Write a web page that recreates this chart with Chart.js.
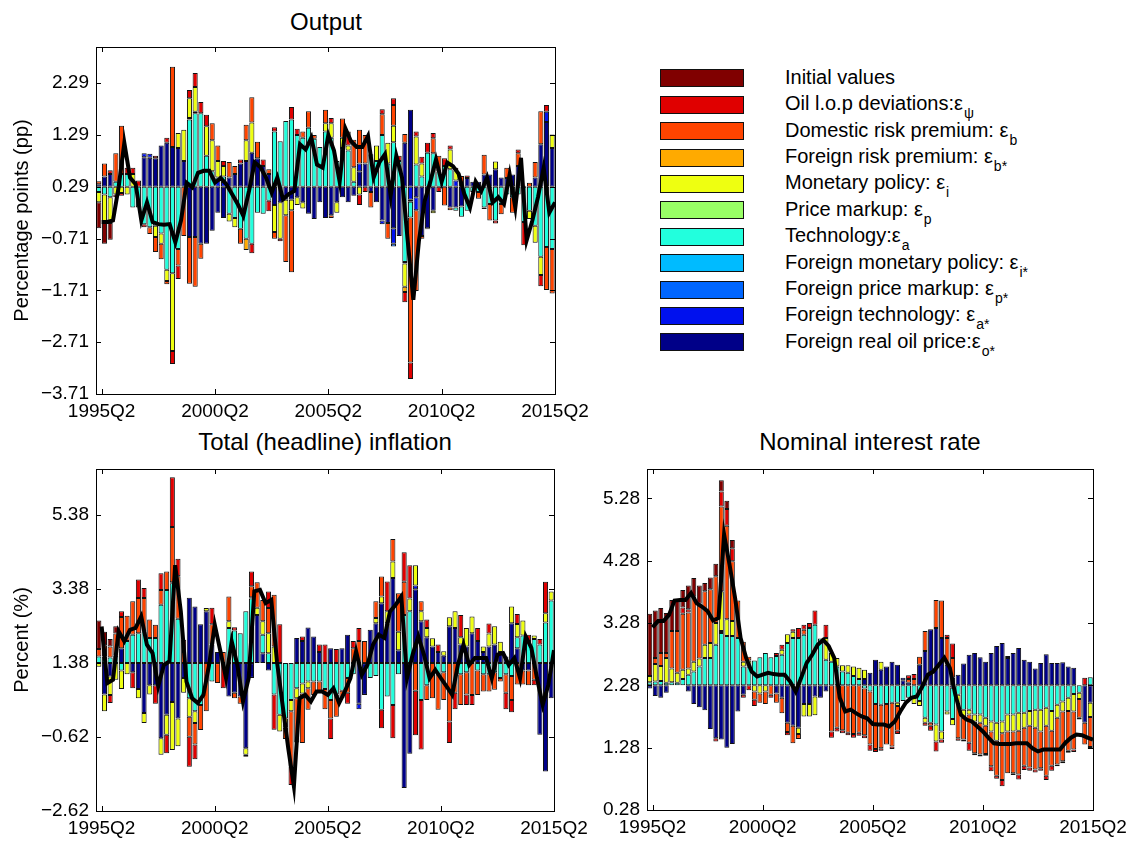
<!DOCTYPE html>
<html>
<head>
<meta charset="utf-8">
<title>Historical shock decomposition</title>
<script src="https://cdn.jsdelivr.net/npm/chart.js@4.4.1/dist/chart.umd.min.js"></script>
<style>
  body { margin: 0; background: #fff; font-family: 'Liberation Sans', Arial, sans-serif; }
  #page { position: relative; width: 1139px; height: 841px; overflow: hidden; background: #fff; }
  .title { position: absolute; width: 460px; text-align: center; font-size: 24px; line-height: 28px; color: #000; }
  .wrap { position: absolute; }
  .lbox { position: absolute; left: 660px; width: 82px; height: 16px; border: 1px solid #111; }
  .ltext { position: absolute; left: 785px; font-size: 20px; line-height: 24px; color: #000; white-space: nowrap; }
  .ltext .sub { position: relative; top: 8px; font-size: 14px; margin-left: 1px; }
</style>
</head>
<body>
<div id="page">
  <div class="title" style="left:96px; top:8px;">Output</div>
  <div class="title" style="left:95px; top:428px;">Total (headline) inflation</div>
  <div class="title" style="left:640px; top:428px;">Nominal interest rate</div>
  <div id="legend"></div>
  <div class="wrap" style="left:0; top:0;"><canvas id="outChart" width="600" height="440"></canvas></div>
  <div class="wrap" style="left:0; top:430px;"><canvas id="infChart" width="600" height="411"></canvas></div>
  <div class="wrap" style="left:560px; top:430px;"><canvas id="rateChart" width="579" height="411"></canvas></div>
</div>
<script>
// quarters 1995Q2 .. 2015Q2
const quarters = [];
for (let y = 1995, q = 2; quarters.length < 81; ) {
  quarters.push(y + 'Q' + q);
  q++; if (q > 4) { q = 1; y++; }
}
const tickLabels = ['1995Q2', '2000Q2', '2005Q2', '2010Q2', '2015Q2'];

// legend (top to bottom)
const legendNames = ['Initial values', 'Oil l.o.p deviations:\u03b5', 'Domestic risk premium: \u03b5',
  'Foreign risk premium: \u03b5', 'Monetary policy: \u03b5', 'Price markup: \u03b5', 'Technology:\u03b5',
  'Foreign monetary policy: \u03b5', 'Foreign price markup: \u03b5', 'Foreign technology: \u03b5',
  'Foreign real oil price:\u03b5'];
const legendSubs = ['', '\u03c8', 'b', 'b*', 'i', 'p', 'a', 'i*', 'p*', 'a*', 'o*'];
const seriesColors = ['#800000', '#e00000', '#ff4400', '#ffaa00', '#eeff11', '#99ff66',
  '#22ffdd', '#00bbff', '#0066ff', '#0011ee', '#000088'];

// ---------- Output (deviation from 0.29) ----------
const outBase = 0.29;
const outInit = [
  -0.5, -0.4, -0.32, 0, 0, 0, 0, 0, 0, 0,
  0, 0, 0, 0, 0, 0, 0, 0, 0, 0,
  0, 0, 0, 0, 0, 0, 0, 0, 0, 0,
  0, 0, 0, 0, 0, 0, 0, 0, 0, 0,
  0, 0, 0, 0, 0, 0, 0, 0, 0, 0,
  0, 0, 0, 0, 0, 0, 0, 0, 0, 0,
  0, 0, 0, 0, 0, 0, 0, 0, 0, 0,
  0, 0, 0, 0, 0, 0, 0, 0, 0, 0,
  0];
const outLop = [
  0, 0, 0.07, -0.05, -0.05, 0.12, 0.12, 0.12, -0.06, 0,
  0.05, 0, 0.1, -0.25, -0.26, 0, 0.16, 0.27, 0.22, 0.22,
  0, 0, 0.1, 0, 0, 0.08, 0, -0.18, 0, 0.13,
  -0.2, 0.08, -0.05, 0, 0.24, 0.12, 0, 0, 0, 0,
  0, 0.1, 0, 0, 0.27, 0, -0.2, -0.1, 0, 0,
  0.1, 0, 0.13, 0.1, -0.2, -0.32, 0.1, 0.13, 0.19, 0.1,
  -0.1, 0.15, 0.08, 0.05, 0, 0.05, 0, 0, -0.03, 0,
  -0.06, 0, 0, 0, 0.07, -0.45, 0, 0, -0.22, 0.13,
  0];
const outDomRisk = [
  0.06, 0.25, 0, 0.55, 0.93, 0, 0, 0, 0, -0.13,
  -0.29, -0.3, -0.06, 1.55, -0.32, -0.95, -0.9, -0.96, -0.29, 0,
  0.33, 0.3, 0, 0.3, 0.15, -0.29, 0.3, 0.49, 0.32, 0,
  0.09, -0.13, 0, -0.9, -1.2, 0, 0.12, 0.32, 0.07, 0,
  0.26, -0.05, 0, 0.37, 0, 0.53, 0.65, 0.55, -0.3, 0,
  0.4, -0.3, 0.4, 0, 0.17, -2.8, -1.56, -0.05, 0, 0.29,
  0.3, -0.36, -0.05, 0, 0.21, 0, 0, -0.13, 0.38, -0.32,
  0, -0.2, 0.2, -0.3, 0.25, 0, 0.08, 0.3, 0.64, -0.83,
  -0.86];
const outForRisk = [
  0, 0, 0, 0, 0, 0, 0, 0, 0, 0,
  0, 0, 0, 0, 0, 0, 0, 0, 0, 0,
  0, 0, 0, 0, 0, 0, -0.22, 0, 0, 0,
  0, 0, 0, 0, 0, 0, 0, 0, 0, 0,
  0, 0, 0, 0, 0, 0, 0, 0, 0, 0,
  0, 0, 0, 0, -0.1, 0, 0, 0, 0, 0,
  0, 0, 0, 0, 0, 0, 0, 0, 0, 0,
  0, 0, 0, 0, 0, 0, 0, 0, 0, 0,
  0];
const outMonPol = [
  -0.2, -0.55, -0.5, -0.15, -0.12, -0.15, 0.25, 0, 0, 0,
  -0.22, -0.2, -0.22, -1.5, 0.29, 0.6, 0.38, 0.48, 0, 0.57,
  0.6, 0.32, 0.2, -0.15, -0.18, 0, 0.4, 0.58, 0, 0,
  0, -0.52, -0.7, -0.3, -0.2, -0.15, -0.12, 0, 0, 0,
  0.16, 0.28, -0.2, 0.2, 0.1, 0.28, -0.15, 0, 0, 0.3,
  0, 0.4, 0.32, 0, -0.45, 0, 0.54, 0.25, -0.02, -0.05,
  0, 0, 0.38, 0.2, 0, 0, 0, 0, 0, 0,
  0.15, 0, 0, 0, 0, 0, -0.16, -0.33, -0.35, 0,
  0.26];
const outMarkup = [
  0, 0, 0, 0, 0, 0, 0, 0, 0, 0,
  0, 0, 0, 0, 0, 0, 0.03, 0.03, 0, 0,
  0, 0, 0, 0, 0, 0, 0, 0, 0, 0,
  0, 0, 0, 0, 0, 0, 0, 0, 0, 0,
  0, 0, 0, 0, 0, 0, 0, 0, 0, 0,
  0, 0, 0, 0, -0.03, 0, 0, 0, 0, 0,
  0, 0, 0, 0, 0, 0, 0, 0, 0, 0,
  0, 0, 0, 0, 0, 0, 0, 0, 0, 0,
  0];
const outTech = [
  -0.1, -0.15, -0.2, 0.1, 0.25, 0.25, -0.4, -0.4, -0.72, -0.78,
  -0.75, -0.9, -1.6, -1.67, -1.2, 0, 1.3, 1.42, 1.42, 0.6,
  0.3, 0.06, 0.1, -0.52, -0.6, -0.81, -1.0, -1.1, -0.5, -0.52,
  -0.27, 1.07, 0.88, 1.27, 1.3, 1.0, 0.95, 1.14, 0.93, 0.77,
  1.07, 0.95, 0.5, 0.75, 0.7, 0.1, 0, 0, 0.63, 0.5,
  1.0, 0.45, 0.86, 0.5, -1.45, -0.3, 0.43, 0.2, 0.66, 0.65,
  0.3, 0.4, 0.34, -0.06, -0.2, -0.46, -0.1, -0.1, -0.4, -0.33,
  -0.65, -0.33, -0.15, -0.2, -0.15, -0.68, -0.46, -0.75, -1.35, -1.16,
  -1.2];
const outForMon = [
  0, 0, 0, 0, 0, 0, 0, 0, 0, 0,
  0, 0, 0, 0, 0, 0, 0, 0, 0, 0,
  0, 0, 0, 0, 0, 0, 0, 0, 0, 0,
  0, 0, 0, 0, 0, 0, 0, 0, 0, 0,
  0, 0, 0, 0, 0, 0, 0, 0, 0, 0,
  0, 0, 0, 0, 0, -0.04, 0, 0, 0, 0,
  0, 0, 0, 0, 0, 0, 0, 0, 0, 0,
  0, 0, 0, 0, 0, 0, 0, 0, 0, 0,
  0];
const outForMarkup = [
  0, 0, 0, 0, 0, 0, 0, 0, 0, 0,
  0, 0, 0, 0, 0, 0, 0, 0, 0, 0,
  0, 0, 0, 0, 0, 0, 0, 0, 0, 0,
  0, 0, 0, 0, 0, 0, 0, 0, 0, 0,
  0, 0, 0, 0, 0, 0, 0, 0, 0, 0,
  0, 0, -0.05, 0, 0, 0, 0, 0, 0, 0,
  0, 0, 0, 0, 0, 0, 0, 0, 0, 0,
  0, 0, 0, 0, 0, 0, 0, 0, 0, 0,
  0];
const outForTech = [
  0, 0, 0, 0, 0, 0, 0, 0, 0.08, 0.08,
  0, 0, 0, 0, 0, 0, 0, 0, 0, 0,
  0, 0.12, 0.1, 0, 0, 0, 0, 0, 0, 0,
  0, 0, 0, 0, 0, 0, 0, 0, 0, 0,
  0, 0, 0, 0, 0, 0, 0.15, 0, 0, 0,
  -0.07, 0, -0.3, 0, 0, -0.25, -0.25, 0, 0, 0,
  0, 0, 0, 0.12, 0, 0, 0, 0, 0, 0,
  0, 0, 0, 0, 0, 0, 0, 0, 0, 0.2,
  0];
const outOilPrice = [
  0.05, 0.2, 0.25, 0, 0, 0, 0, 0, 0.57, 0.56,
  0.55, 0.8, 0.85, 0.77, 0.75, 0.5, -0.97, -0.97, -1.1, -1.1,
  -0.85, -0.5, -0.6, 0.18, 0.25, 0.45, 0.5, 0.66, 0.55, 0.4,
  0.25, -0.35, -0.3, -0.25, -0.25, -0.2, -0.3, -0.52, -0.62, -0.3,
  -0.6, -0.55, -0.3, -0.2, -0.3, -0.17, 0.3, 0.45, -0.1, -0.3,
  -0.65, -0.7, -0.8, -0.95, 0.85, 1.49, -0.2, -0.95, -0.8, -0.46,
  0, 0, -0.4, -0.4, -0.38, 0.17, 0.1, 0.1, 0.24, 0.24,
  0.34, 0.18, 0.17, 0.24, 0.4, 0.02, 0, 0.18, 0.82, 1.25,
  0.75];
const outLine = [
  -0.68, -0.68, -0.65, 0.0, 0.85, 0.18, 0.05, -0.65, -0.3, -0.68,
  -0.72, -0.73, -0.72, -1.07, -0.65, 0.08, -0.01, 0.27, 0.31, 0.31,
  0.08, 0.17, 0.05, -0.14, -0.33, -0.56, -0.08, 0.47, 0.38, 0.18,
  -0.11, 0.18, -0.24, -0.14, -0.08, 0.82, 0.72, 0.95, 0.43, 0.37,
  1.0, 0.7, 0.1, 1.13, 0.88, 0.77, 0.77, 0.98, 0.18, 0.47,
  0.63, -0.17, 0.6, 0.18, -1.03, -2.18, -1.03, -0.27, 0.1, 0.53,
  0.1, 0.47, 0.4, 0.25, -0.14, -0.4, 0.1, -0.08, 0.18, -0.3,
  -0.2, -0.33, 0.24, -0.4, 0.56, -1.03, -0.65, -0.2, 0.37, -0.5,
  -0.3];

// ---------- Total inflation (deviation from 1.38) ----------
const infBase = 1.38;
const infInit = [
  0.77, 0.37, 0.2, 0.2, 0, 0, 0, 0, 0, 0,
  0, 0, 0, 0, 0, 0, 0, 0, 0, 0,
  0, 0, 0, 0, 0, 0, 0, 0, 0, 0,
  0, 0, 0, 0, 0, 0, 0, 0, 0, 0,
  0, 0, 0, 0, 0, 0, 0, 0, 0, 0,
  0, 0, 0, 0, 0, 0, 0, 0, 0, 0,
  0, 0, 0, 0, 0, 0, 0, 0, 0, 0,
  0, 0, 0, 0, 0, 0, 0, 0, 0, 0,
  0];
const infLop = [
  0, 0, -0.22, 0, 0.15, 0, -0.43, 0.5, 0.27, 0,
  -0.5, 0.45, -0.5, 1.35, 0.47, 0.33, -0.81, -0.4, 0, 0,
  0.45, 0, -0.68, 0, 0.09, 0, -0.05, 0.4, 0, 0,
  0.45, -0.95, 1.05, 0, -0.5, 0, 0.12, 0, 0, 0.2,
  0.5, -0.55, 0.38, 0, -0.3, 0.2, 0.35, 0, 0, 0,
  -0.5, 0.81, -0.9, 0, 0.8, 0.9, -1.2, -1.34, 0.23, 0,
  0.2, 0, -0.58, -0.45, 0.6, -0.28, -0.27, 0.35, 0, 0.27,
  0, 0, -0.45, -0.33, 0.27, 0, 0.17, -0.15, 0.15, 0.85,
  0];
const infDomRisk = [
  0.2, 0.3, 0.3, 0.6, 0.85, 0.68, 0.9, 0.95, 0.9, 0.5,
  0.36, 0.4, 0.5, 1.49, 1.15, 0.3, -0.54, -0.58, -0.68, -1.3,
  0.55, -0.54, 0.3, 0.67, -0.15, -0.2, 0, 0.3, 0.69, 0.58,
  0.68, 1.4, 0, -0.3, -1.5, -1.2, -1.34, -0.58, -0.36, -0.3,
  -0.55, -0.5, -0.6, -0.2, -0.4, 0.4, 0.6, 0.6, 0, 0.45,
  0.54, 0, 0.61, 1.04, 0.9, 0, -0.75, 0.27, -0.4, -0.95,
  -0.96, -0.75, -1.58, -0.8, -0.83, -0.6, -0.86, -0.66, -0.47, -0.47,
  -0.47, -0.1, -0.5, -0.65, -0.58, -0.38, -0.4, -0.45, 0, 0,
  0];
const infForRisk = [
  0, 0, 0, 0, 0, 0, 0, 0, 0, 0,
  0, 0, 0, 0, 0, 0, 0, 0, 0, 0,
  0, 0, 0, 0, 0, 0, 0, 0, 0, 0,
  0, 0, 0, 0, 0, 0, 0, 0, 0, 0,
  0, 0, 0, 0, 0, 0, 0, 0, 0, 0,
  0, 0, 0, 0, 0, 0, 0, 0, 0, 0,
  0, 0, 0, 0, 0, 0, 0, 0, 0, 0,
  0, 0, 0, 0, 0, 0, 0, 0, 0, 0,
  0];
const infMonPol = [
  -0.1, -0.45, -0.5, -0.45, -0.5, -0.3, 0, -0.25, -0.27, -0.25,
  0, -0.45, -0.54, -1.3, -0.75, -0.4, -0.5, -0.32, 0, 0.09,
  0, 0, 0, 0.18, 0, 0, -0.18, 0, 0.2, 0.36,
  0.54, 0.45, -0.45, -0.25, -0.3, -0.27, -0.27, -0.18, 0, 0,
  0, 0, 0, 0, 0, 0, 0, 0, 0, 0.14,
  0.18, 0.32, 0.45, 0.5, 0, 0.35, 0.55, 0.27, 0.25, 0.22,
  0, 0.12, 0.24, 0.45, 0.2, 0.5, 0.45, 0, 0.15, 0.35,
  0.5, 0.28, 0, 0.45, 0.36, 0.4, 0, 0.1, 0, 0.25,
  0.25];
const infMarkup = [
  0, 0, 0, 0, 0, 0, 0, 0, 0, 0,
  0, 0, 0, 0.03, 0, 0, 0, 0, 0, 0,
  0, 0, 0, 0, 0, 0, 0, 0.03, 0, 0,
  0, 0, 0, 0, 0, 0, 0, 0, 0, 0,
  0, 0, 0, 0, 0, 0, 0, 0, 0, 0,
  0, 0, 0, 0, 0, 0, 0, 0, 0, 0,
  0, 0, 0, 0, 0, 0, 0, 0, 0, 0,
  0, 0, 0, 0, 0, 0, 0, 0, 0, 0,
  0];
const infTech = [
  0.18, 0.18, 0.15, 0.2, -0.2, 0.6, 0.77, 0.81, 0.86, 0.68,
  0.68, 1.58, 1.98, 2.16, 1.2, 0, -0.95, -1.3, -1.13, 0,
  -0.5, 0, 0, 0.95, 0.88, 0.81, 1.4, 1.75, 0, 0.5,
  0.27, -0.85, -1.4, -1.5, -1.0, -0.68, -0.55, -0.5, -0.5, -0.5,
  -0.7, -1.0, -0.85, -0.75, -0.4, -0.3, 0, 0, -0.4, -0.35,
  -1.26, -0.9, -1.13, -0.3, 1.3, 1.4, 0, -1.0, -0.6, 0,
  -0.3, -0.25, 0, 0, -0.3, -0.25, 0, -0.2, -0.3, -0.3,
  -0.25, -0.4, -0.3, -0.35, 0.3, 0.75, 0.6, 0.65, 0.5, 1.1,
  1.69];
const infForMon = [
  0, 0, 0, 0, 0, 0, 0, 0, 0, 0,
  0, 0, 0, 0, 0, 0, 0, 0, 0, 0,
  0, 0, 0, 0, 0, 0, 0, 0, 0, 0,
  0, 0, 0, 0, 0, 0, 0, 0, 0, 0,
  0, 0, 0, 0, 0, 0, 0, 0, 0, 0,
  0, 0, 0, 0, 0, 0, 0, 0, 0, 0,
  0, 0, 0, 0, 0, 0, 0, 0, 0, 0,
  0, 0, 0, 0, 0, 0, 0, 0, 0, 0,
  0];
const infForMarkup = [
  0, 0, 0, 0, 0, 0, 0, 0, 0, 0,
  0, 0, 0, 0, 0, 0, 0, 0, 0, 0,
  0, 0, 0, 0, 0, 0, 0, 0, 0, 0,
  0, 0, 0, 0, 0, 0, 0, 0, 0, 0,
  0, 0, 0, 0, 0, 0, 0, 0, 0, 0,
  0, 0, 0, 0, 0, 0, 0, 0, 0, 0,
  0, 0, 0, 0, 0, 0, 0, 0, 0, 0,
  0, 0, 0, 0, 0, 0, 0, 0, 0, 0,
  0];
const infForTech = [
  0, 0, 0, 0, 0, 0, 0, 0, 0, 0,
  0, 0, 0, 0, 0, 0, 0, 0, 0, 0,
  0, 0, 0, 0, 0, 0, 0, 0, 0, 0,
  0, 0, 0, 0, 0, 0, 0, 0, 0, 0,
  0, 0, 0, 0, 0, 0, -0.15, 0, 0, 0,
  0, 0, 0, 0, 0, 0, 0.1, 0, 0, 0,
  0, 0, 0, 0, 0, 0, 0, 0, 0, 0,
  0, 0, 0, 0, 0, 0, 0, 0, 0, 0,
  0];
const infOilPrice = [
  0, -0.85, -0.36, 0, 0.4, 0, -0.25, -0.7, -1.35, -0.6,
  -0.6, -2.03, -1.4, -1.05, -1.5, -0.4, 1.77, 1.53, 1.05, 1.4,
  0.5, 0.3, 0, -0.9, -0.8, -0.9, -2.3, -0.4, 1.3, 0.27,
  -0.2, 0, 0, 0, 0, 0.68, 0.6, 0.96, 0.72, 0.3,
  0, 0.4, 0, 0.4, 0.77, 0, -1.1, -0.86, 0.9, 1.08,
  1.62, 1.08, 2.3, 0.35, -3.38, -2.45, 2.0, 1.13, 0.7, 0.45,
  0.3, 0.2, 1.0, 0.95, 0.5, 0.45, 0.81, 0.6, 0.3, 0.45,
  0.5, 0.3, 0.18, 1.08, 0.4, -0.2, -0.2, 0, -1.94, -2.93,
  -0.95];
const infLine = [
  0.99, -0.54, -0.45, 0.86, 0.59, 0.9, 0.95, 1.26, 0.5, 0.27,
  -0.63, -0.05, 0.05, 2.65, 1.4, -0.5, -0.95, -1.08, -0.86, -0.05,
  1.04, 0.32, -0.41, 0.59, -0.05, -1.04, -0.41, 1.94, 1.98, 1.62,
  1.71, 0.05, -1.13, -2.3, -3.33, -0.95, -0.86, -1.04, -0.77, -0.77,
  -0.86, -0.68, -1.08, -0.77, -0.41, 0.32, -0.32, -0.05, 0.5, 0.77,
  0.68, 1.4, 1.58, 1.8, -0.41, 0.23, 0.72, 0.23, -0.41, -0.18,
  -0.41, -0.63, -0.86, -0.05, 0.5, -0.05, 0.14, 0.14, 0.14, -0.41,
  0.23, 0.27, -0.05, 0.14, -0.41, 0.72, 0.41, -0.41, -1.13, -0.59,
  0.35];

// ---------- Nominal interest rate (deviation from 2.28) ----------
const rateBase = 2.28;
const rateInit = [
  1.0, 0.76, 0.72, 0.64, 0.5, 0.5, 0.28, 0.38, 0.3, 0.29,
  0.13, 0.19, 0.2, 0.18, 0.13, 0.13, 0, 0, 0, 0,
  0, 0, 0, 0, 0, 0, 0, 0, 0, 0,
  0, 0, 0, 0, 0, 0, 0, 0, 0, 0,
  0, 0, 0, 0, 0, 0, 0, 0, 0, 0,
  0, 0, 0, 0, 0, 0, 0, 0, 0, 0,
  0, 0, 0, 0, 0, 0, 0, 0, 0, 0,
  0, 0, 0, 0, 0, 0, 0, 0, 0, 0,
  0];
const rateLop = [
  0, 0, 0, 0, 0, 0, 0.1, 0.05, 0, 0,
  0, 0, -0.05, 0.24, 0.27, 0.21, 0, -0.05, -0.08, -0.1,
  0, 0, -0.05, 0.05, 0.08, -0.05, 0.04, 0.16, 0.08, 0.08,
  0.23, 0, 0.21, -0.1, -0.06, -0.05, -0.04, -0.06, -0.05, -0.05,
  -0.1, -0.05, -0.04, 0, -0.04, -0.05, 0, 0.06, 0.08, 0,
  -0.05, -0.08, -0.16, -0.05, 0.05, 0.23, -0.04, -0.03, -0.13, -0.03,
  -0.03, -0.03, -0.08, -0.05, -0.1, 0.03, -0.03, -0.08, -0.07, -0.05,
  -0.05, -0.04, -0.07, -0.08, -0.03, -0.03, -0.03, -0.04, -0.03, 0.12,
  -0.03];
const rateDomRisk = [
  0, 0.1, 0.21, 0.08, 0.6, 0.67, 0.9, 0.9, 1.04, 0.88,
  0.86, 0.86, 0.75, 1.36, 1.5, 0.96, 0.6, 0.32, 0.06, -0.13,
  -0.15, -0.2, -0.15, -0.15, -0.25, -0.15, -0.28, -0.08, 0.08, 0,
  0, 0, 0, -0.74, -0.68, -0.72, -0.76, -0.78, -0.76, -0.75,
  -0.85, -0.72, -0.7, -0.65, -0.7, -0.4, 0, 0.06, 0.1, 0.13,
  0.32, -0.05, 0.45, 0.6, 0.43, 0.32, -0.55, -0.35, -0.45, -0.51,
  -0.51, -0.45, -0.56, -0.56, -0.75, -0.67, -0.67, -0.7, -0.61, -0.67,
  -0.67, -0.59, -0.8, -0.56, -0.75, -0.8, -0.64, -0.61, -0.3, -0.35,
  -0.48];
const rateForRisk = [
  0, 0, 0, 0, 0, 0, 0, 0, 0, 0,
  0, 0, 0, 0, 0, 0, 0, 0, 0, 0,
  0, 0, 0, 0, 0, 0, 0, 0, 0, 0,
  0, 0, 0, 0, 0, 0, 0, 0, 0, 0,
  0, 0, 0, 0, 0, 0, 0, 0, 0, 0,
  0, 0, 0, 0, 0, 0, 0, 0, 0, 0,
  0, 0, 0, 0, 0, 0, 0, 0, 0, 0,
  0, 0, 0, 0, 0, 0, 0, 0, 0, 0,
  0];
const rateMonPol = [
  0.1, 0.28, 0.24, 0.4, 0.22, 0.16, 0.15, 0.1, 0.16, 0.13,
  0.21, 0.24, 0.35, 0.64, 0.27, 0.24, 0, 0.08, 0.1, -0.1,
  -0.13, -0.1, 0, 0, 0.08, 0.14, 0.1, -0.1, -0.2, -0.2,
  -0.3, 0, 0.35, 0.14, 0.14, 0.1, 0.12, 0.15, 0.18, 0.15,
  0, 0, 0.13, 0, 0, -0.05, 0, 0, -0.1, -0.08,
  -0.08, 0, -0.27, -0.13, -0.05, -0.1, -0.15, -0.13, -0.08, -0.11,
  -0.13, -0.13, -0.16, -0.29, -0.19, -0.27, -0.27, -0.29, -0.24, -0.24,
  -0.29, -0.35, -0.29, -0.32, -0.21, -0.16, -0.21, -0.28, -0.1, 0,
  -0.23];
const rateMarkup = [
  0, 0, 0, 0, 0, 0, 0, 0, 0, 0,
  0, 0, 0, 0.03, 0, 0, 0, 0, 0, 0,
  0, 0, 0, 0, 0, 0, 0, 0, 0, 0,
  0, 0, 0, 0, 0, 0, 0, 0, 0, 0,
  0, 0, 0, 0, 0, 0, 0, 0, 0, 0,
  0, 0, 0, 0, 0, 0, 0, 0, 0, 0,
  0, 0, 0, 0, 0, 0, 0, 0, 0, 0,
  0, 0, 0, 0, 0, 0, 0, 0, 0, 0,
  0];
const rateTech = [
  0.05, 0.06, 0.07, 0.04, 0.05, 0.04, 0.1, 0.17, 0.22, 0.3,
  0.44, 0.44, 0.65, 0.84, 0.79, 0.79, 0.76, 0.3, 0.3, 0.4,
  0.45, 0.52, 0.45, 0.47, 0.49, 0.68, 0.76, 0.76, 0.81, 0.92,
  0.97, 0.75, 0.41, 0.38, 0.3, 0.22, 0.2, 0.15, 0.1, -0.05,
  -0.1, -0.3, -0.31, -0.3, -0.28, -0.28, -0.25, -0.2, -0.2, -0.25,
  -0.52, -0.6, -0.63, -0.74, -0.42, -0.5, -0.15, -0.39, -0.39, -0.47,
  -0.47, -0.52, -0.58, -0.6, -0.58, -0.47, -0.47, -0.44, -0.44, -0.41,
  -0.39, -0.39, -0.36, -0.41, -0.31, -0.26, -0.2, -0.14, -0.12, 0,
  0.13];
const rateForMon = [
  0, 0, 0, 0, 0, 0, 0, 0, 0, 0,
  0, 0, 0, 0, 0, 0, 0, 0, 0, 0,
  0, 0, 0, 0, 0, 0, 0, 0, 0, 0,
  0, 0, 0, 0, 0, 0, 0, 0, 0, 0,
  0, 0, 0, 0, 0, 0, 0, 0, 0, 0,
  0, 0, 0, 0, 0, 0, 0, 0, 0, 0,
  0, 0, 0, 0, 0, 0, 0, 0, 0, 0,
  0, 0, 0, 0, 0, 0, 0, 0, 0, 0,
  0];
const rateForMarkup = [
  0, 0, 0, 0, 0, 0, 0, 0, 0, 0,
  0, 0, 0, 0, 0, 0, 0, 0, 0, 0,
  0, 0, 0, 0, 0, 0, 0, 0, 0, 0,
  0, 0, 0, 0, 0, 0, 0, 0, 0, 0,
  0, 0, 0, 0, 0, 0, 0, 0, 0, 0,
  0, 0, 0, 0, 0, 0, 0, 0, 0, 0,
  0, 0, 0, 0, 0, 0, 0, 0, 0, 0,
  0, 0, 0, 0, 0, 0, 0, 0, 0, 0,
  0];
const rateForTech = [
  0, 0, 0, 0, 0, 0, 0, 0, 0, 0,
  0, 0, 0, 0, 0, 0, 0, 0, 0, 0,
  0, 0, 0, 0, 0, 0, 0, 0, 0, 0,
  0, 0, 0, 0, 0, 0, 0, 0, 0, 0,
  0, 0, 0, 0, 0, 0, 0.04, 0.04, 0, 0,
  0, 0, 0, 0, 0, -0.04, 0, 0, 0, 0,
  0, 0, 0, 0, 0, 0, 0, 0, 0, 0,
  0, 0, 0, 0, 0, 0, 0, 0, 0, 0,
  0];
const rateOilPrice = [
  -0.05, -0.17, -0.2, -0.12, 0, 0, 0, -0.1, -0.3, -0.35,
  -0.4, -0.7, -0.85, -0.87, -1.0, -0.94, -0.42, -0.15, 0, 0,
  0, 0, 0, -0.13, -0.2, -0.6, -0.65, -0.68, -0.3, -0.3,
  -0.18, -0.2, -0.1, 0, 0, 0, 0, 0, 0, 0.1,
  0.2, 0.41, 0.25, 0.3, 0.38, 0.33, 0.08, 0, 0, 0.33,
  0.55, 0.9, 0.92, 0.76, 0.33, 0.12, 0.17, 0.35, 0.49, 0.52,
  0.45, 0.38, 0.52, 0.63, 0.68, 0.44, 0.52, 0.6, 0.41, 0.38,
  0.27, 0.36, 0.5, 0.36, 0.36, 0.37, 0.3, 0.28, 0, -0.6,
  -0.28];
const rateLine = [
  0.93, 1.03, 1.03, 1.13, 1.36, 1.37, 1.37, 1.48, 1.32, 1.26,
  1.19, 1.04, 1.08, 2.42, 1.93, 1.4, 0.76, 0.44, 0.22, 0.14,
  0.17, 0.2, 0.18, 0.17, 0.17, 0.06, -0.1, 0.12, 0.36, 0.49,
  0.65, 0.73, 0.63, 0.44, -0.2, -0.42, -0.39, -0.45, -0.5, -0.53,
  -0.62, -0.63, -0.63, -0.66, -0.58, -0.42, -0.28, -0.2, -0.18, -0.02,
  0.17, 0.22, 0.33, 0.44, 0.28, -0.15, -0.47, -0.55, -0.58, -0.66,
  -0.74, -0.84, -0.93, -0.94, -0.94, -0.94, -0.93, -0.93, -0.93, -1.01,
  -1.06, -1.03, -1.03, -1.03, -1.03, -0.92, -0.84, -0.79, -0.8, -0.84,
  -0.87];

Chart.defaults.font.family = "'Liberation Sans', Arial, sans-serif";
Chart.defaults.color = '#000';

// box, inward ticks on all four sides (MATLAB look)
const matlabAxes = {
  id: 'matlabAxes',
  afterDraw(chart) {
    const { ctx, chartArea: a, scales: { x, y } } = chart;
    const len = 5;
    ctx.save();
    ctx.strokeStyle = '#000';
    ctx.lineWidth = 1;
    ctx.strokeRect(Math.round(a.left) + 0.5, Math.round(a.top) + 0.5,
      Math.round(a.right - a.left), Math.round(a.bottom - a.top));
    ctx.beginPath();
    y.ticks.forEach(t => {
      const py = Math.round(y.getPixelForValue(t.value)) + 0.5;
      ctx.moveTo(a.left, py); ctx.lineTo(a.left + len, py);
      ctx.moveTo(a.right, py); ctx.lineTo(a.right - len, py);
    });
    const half = (x.getPixelForValue(1) - x.getPixelForValue(0)) / 2;
    for (let i = 0; i < quarters.length; i += 20) {
      const px = Math.round(x.getPixelForValue(i) + half) + 0.5;
      ctx.moveTo(px, a.bottom); ctx.lineTo(px, a.bottom - len);
      ctx.moveTo(px, a.top); ctx.lineTo(px, a.top + len);
    }
    ctx.stroke();
    ctx.restore();
  }
};

const fmtTick = v => v.toFixed(2).replace('-', '\u2212');
const toBars = arr => arr.map(v => (v === 0 ? null : v));

function makePanel(id, series, line, base, opt) {
  // series in legend order; stack from the bottom of the legend upward
  const datasets = series.map((data, i) => ({
    type: 'bar',
    label: legendNames[i],
    data: toBars(data),
    stack: 'shocks',
    grouped: false,
    backgroundColor: seriesColors[i],
    borderColor: '#111',
    borderWidth: 1,
    borderSkipped: false,
    categoryPercentage: 1.0,
    barPercentage: 0.9,
    order: 1
  })).reverse();
  datasets.push({
    type: 'line',
    label: 'Observed',
    data: line.map((v, i) => ({ x: i + 0.5, y: v })),
    xAxisID: 'xl',
    stack: 'line',
    borderColor: '#000',
    borderWidth: 4,
    pointRadius: 0,
    tension: 0,
    fill: false,
    order: 0
  });

  return new Chart(document.getElementById(id), {
    data: { labels: quarters, datasets },
    options: {
      responsive: false,
      animation: false,
      events: [],
      layout: { padding: { top: opt.padTop, right: opt.padRight, left: 0, bottom: 0 } },
      plugins: { legend: { display: false }, tooltip: { enabled: false } },
      scales: {
        x: {
          type: 'category',
          stacked: true,
          offset: true,
          afterFit: s => { s.height = opt.xHeight; },
          grid: { display: false, drawTicks: false },
          border: { display: false },
          ticks: {
            autoSkip: false, maxRotation: 0, minRotation: 0,
            padding: 6, labelOffset: 2.8,
            font: { size: 19 },
            callback: (v, i) => (i % 20 === 0 ? tickLabels[i / 20] : '')
          }
        },
        xl: { type: 'linear', display: false, offset: false, min: -0.5, max: 80.5 },
        y: {
          stacked: true,
          min: opt.min, max: opt.max,
          afterFit: s => { s.width = opt.yWidth; },
          grid: { display: false, drawTicks: false },
          border: { display: false },
          ticks: {
            stepSize: opt.step, includeBounds: false, padding: 7,
            font: { size: 19 },
            callback: v => fmtTick(v + base)
          },
          title: {
            display: !!opt.yTitle, text: opt.yTitle || '',
            font: { size: 20 }, padding: { top: 10, bottom: 0 }
          }
        }
      }
    },
    plugins: [matlabAxes]
  });
}

makePanel('outChart',
  [outInit, outLop, outDomRisk, outForRisk, outMonPol, outMarkup, outTech, outForMon, outForMarkup, outForTech, outOilPrice],
  outLine, outBase,
  { min: -4, max: 2.7, step: 1, yWidth: 96, xHeight: 46, padTop: 47, padRight: 45, yTitle: 'Percentage points (pp)' });

makePanel('infChart',
  [infInit, infLop, infDomRisk, infForRisk, infMonPol, infMarkup, infTech, infForMon, infForMarkup, infForTech, infOilPrice],
  infLine, infBase,
  { min: -4, max: 5.25, step: 2, yWidth: 96, xHeight: 30, padTop: 39, padRight: 46, yTitle: 'Percent (%)' });

makePanel('rateChart',
  [rateInit, rateLop, rateDomRisk, rateForRisk, rateMonPol, rateMarkup, rateTech, rateForMon, rateForMarkup, rateForTech, rateOilPrice],
  rateLine, rateBase,
  { min: -2, max: 3.47, step: 1, yWidth: 87, xHeight: 31, padTop: 39, padRight: 46, yTitle: '' });

// legend
const legendEl = document.getElementById('legend');
legendNames.forEach((name, i) => {
  const top = 69.3 + 26.4 * i;
  const box = document.createElement('div');
  box.className = 'lbox';
  box.style.top = top + 'px';
  box.style.background = seriesColors[i];
  legendEl.appendChild(box);
  const txt = document.createElement('div');
  txt.className = 'ltext';
  txt.style.top = (top + 8.6 - 1.4 - 11.8) + 'px';
  txt.textContent = name;
  if (legendSubs[i]) {
    const sub = document.createElement('span');
    sub.className = 'sub';
    sub.textContent = legendSubs[i];
    txt.appendChild(sub);
  }
  legendEl.appendChild(txt);
});
</script>
</body>
</html>
